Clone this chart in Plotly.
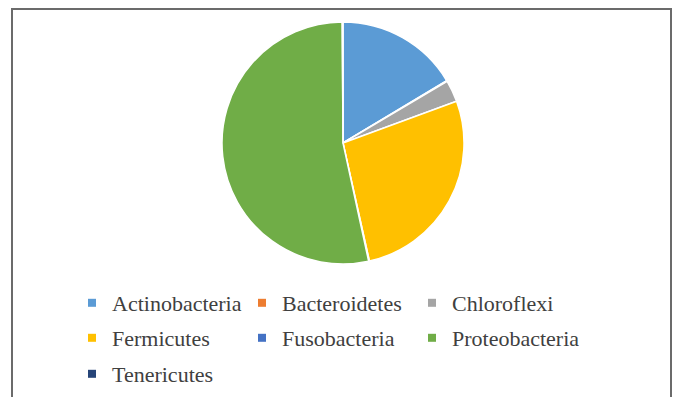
import plotly.graph_objects as go

# Phylum composition (%)
phyla = ["Actinobacteria", "Bacteroidetes", "Chloroflexi", "Fermicutes",
         "Fusobacteria", "Proteobacteria", "Tenericutes"]
shares = [16.4, 0.1, 2.9, 27.1, 0.1, 53.3, 0.1]
colors = ["#5B9BD5", "#ED7D31", "#A5A5A5", "#FFC000",
          "#4472C4", "#70AD47", "#264478"]

W, H = 675, 397
cx, cy, r = 343, 143, 121

fig = go.Figure()
fig.add_trace(go.Pie(
    labels=phyla,
    values=shares,
    sort=False,
    direction="clockwise",
    rotation=0,
    marker=dict(colors=colors, line=dict(color="white", width=1.5)),
    textinfo="none",
    hoverinfo="label+percent",
    showlegend=False,
    domain=dict(x=[(cx - r) / W, (cx + r) / W],
                y=[1 - (cy + r) / H, 1 - (cy - r) / H]),
))

# legend key: three entries per row, one legend box per row
row_centers = [303, 338, 374]
legend_names = ["legend", "legend2", "legend3"]
for i, (name, col) in enumerate(zip(phyla, colors)):
    fig.add_trace(go.Scatter(
        x=[None], y=[None], mode="markers", name=name,
        marker=dict(symbol="square", size=8, color=col),
        legend=legend_names[i // 3], showlegend=True, hoverinfo="skip",
    ))

legend_style = dict(
    orientation="h",
    x=72 / W, xanchor="left",
    yanchor="middle",
    entrywidth=125, entrywidthmode="pixels",
    font=dict(family="Liberation Serif", size=22, color="#404040"),
    itemwidth=30,
    bgcolor="rgba(0,0,0,0)",
    itemclick=False, itemdoubleclick=False,
)

# chart frame (open at the bottom edge)
fig.add_shape(type="rect", xref="paper", yref="paper",
              x0=12 / W, x1=671 / W, y0=-0.05, y1=1 - 9 / H,
              line=dict(color="#6b6b6b", width=2), fillcolor="rgba(0,0,0,0)")

fig.update_layout(
    width=W, height=H,
    margin=dict(l=0, r=0, t=0, b=0, autoexpand=False),
    paper_bgcolor="white",
    plot_bgcolor="white",
    xaxis=dict(visible=False),
    yaxis=dict(visible=False),
    legend=dict(legend_style, y=1 - row_centers[0] / H),
    legend2=dict(legend_style, y=1 - row_centers[1] / H),
    legend3=dict(legend_style, y=1 - row_centers[2] / H),
)

fig.write_html("out.html")
